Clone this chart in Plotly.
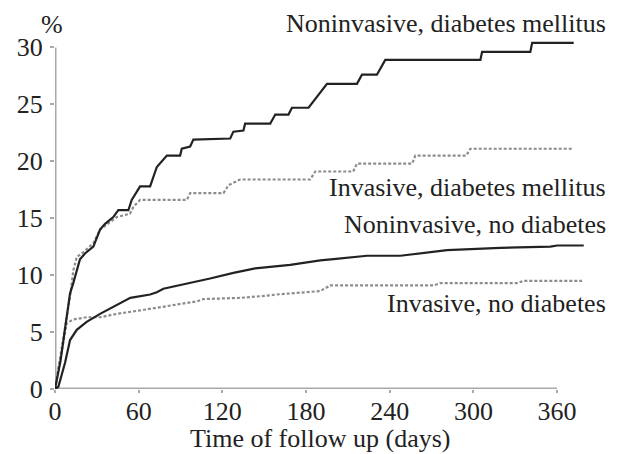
import plotly.graph_objects as go

# Cumulative event curves (% of patients) against days of follow-up
days_noninv_dm = [0, 4, 8, 10.8, 13.1, 15.6, 17.9, 21.5, 27.5, 32.3, 35.9, 41.8, 45.4, 52.6, 55.0,
                  61.0, 68.2, 73.0, 77.7, 80.2, 89.7, 90.9, 96.9, 99.2, 125.6, 127.9, 135.1, 136.3,
                  154.3, 157.9, 167.4, 169.9, 181.8, 195.0, 216.5, 220.1, 230.8, 236.8, 305.0,
                  306.2, 340.8, 342.1, 371.9]
pct_noninv_dm = [0, 2.5, 6.0, 8.4, 9.3, 10.5, 11.4, 11.9, 12.5, 14.0, 14.5, 15.1, 15.7, 15.7, 16.6,
                 17.8, 17.8, 19.5, 20.1, 20.5, 20.5, 21.1, 21.3, 21.9, 22.0, 22.6, 22.7, 23.3,
                 23.3, 24.1, 24.1, 24.7, 24.7, 26.8, 26.8, 27.6, 27.6, 28.9, 28.9,
                 29.6, 29.6, 30.4, 30.4]

days_inv_dm = [0, 7.2, 10.8, 13.1, 15.6, 19.2, 27.5, 32.3, 44.3, 53.8, 56.2, 61.0, 94.5, 96.9,
               120.8, 124.4, 132.7, 183.0, 186.6, 213.8, 216.5, 256.2, 258.3, 294.9, 297.8, 370.8]
pct_inv_dm = [0, 5.2, 8.1, 10.4, 11.6, 11.9, 12.8, 14.0, 15.1, 15.4, 16.0, 16.6, 16.6, 17.2,
              17.2, 17.9, 18.4, 18.4, 19.1, 19.1, 19.8, 19.8, 20.5, 20.5, 21.1, 21.1]

days_noninv_nodm = [0, 2.4, 7.2, 10.8, 15.6, 22.7, 32.3, 44.3, 54, 68.2, 73, 77.7, 93.3, 111.2,
                    127.9, 143.5, 168.6, 190.2, 199.7, 223.7, 247.6, 266.7, 281.1, 319.3, 355.2,
                    360.0, 379.1]
pct_noninv_nodm = [0, 0.2, 2.3, 4.3, 5.2, 5.9, 6.6, 7.4, 8.0, 8.3, 8.5, 8.8, 9.2, 9.7,
                   10.2, 10.6, 10.9, 11.3, 11.4, 11.7, 11.7, 12.0, 12.2, 12.4, 12.5,
                   12.6, 12.6]

days_inv_nodm = [0, 8.4, 13.1, 22.7, 32.3, 44.3, 61.0, 75.3, 89.7, 101.7, 106.4, 132.7, 151.9,
                 159.1, 190.2, 197.3, 271.5, 276.3, 331.3, 336.0, 377.9]
pct_inv_nodm = [0, 5.8, 6.1, 6.3, 6.3, 6.6, 6.9, 7.2, 7.5, 7.7, 7.9, 8.0, 8.2,
                8.3, 8.6, 9.1, 9.1, 9.3, 9.3, 9.5, 9.5]

x_ticks = [0, 60, 120, 180, 240, 300, 360]
y_ticks = [0, 5, 10, 15, 20, 25, 30]

FONT = '"Liberation Serif", "DejaVu Serif", serif'
AXIS_GREY = "#a9a9a9"
DOT_GREY = "#8c8c8c"
INK = "#222222"

fig = go.Figure()

dotted = dict(color=DOT_GREY, width=2.2, dash="3px,2px")
solid = dict(color=INK, width=2.2)

fig.add_trace(go.Scatter(x=days_inv_nodm, y=pct_inv_nodm, mode="lines", line=dotted,
                         name="Invasive, no diabetes"))
fig.add_trace(go.Scatter(x=days_inv_dm, y=pct_inv_dm, mode="lines", line=dotted,
                         name="Invasive, diabetes mellitus"))
fig.add_trace(go.Scatter(x=days_noninv_nodm, y=pct_noninv_nodm, mode="lines", line=solid,
                         name="Noninvasive, no diabetes"))
fig.add_trace(go.Scatter(x=days_noninv_dm, y=pct_noninv_dm, mode="lines", line=solid,
                         name="Noninvasive, diabetes mellitus"))

# axis lines end at the last tick
fig.add_shape(type="line", x0=0, x1=x_ticks[-1], y0=0, y1=0, xref="x", yref="y",
              line=dict(color=AXIS_GREY, width=3), layer="below")
fig.add_shape(type="line", x0=0, x1=0, y0=0, y1=y_ticks[-1], xref="x", yref="y",
              line=dict(color=AXIS_GREY, width=3), layer="below")

label_font = dict(family=FONT, size=26, color=INK)
right_x = 1.0434
for text, yp in [("Noninvasive, diabetes mellitus", 1.0349),
                 ("Invasive, diabetes mellitus", 0.5722),
                 ("Noninvasive, no diabetes", 0.4646),
                 ("Invasive, no diabetes", 0.2416)]:
    fig.add_annotation(text=text, x=right_x, y=yp, xref="paper", yref="paper",
                       xanchor="right", yanchor="middle", showarrow=False, font=label_font)

fig.add_annotation(text="%", x=-0.0057, y=1.0312, xref="paper", yref="paper",
                   xanchor="center", yanchor="middle", showarrow=False, font=label_font)
fig.add_annotation(text="Time of follow up (days)", x=0.5, y=-0.1402, xref="paper", yref="paper",
                   xanchor="center", yanchor="middle", showarrow=False, font=label_font)

fig.update_layout(
    width=619, height=454,
    margin=dict(l=55, r=34, t=36, b=65),
    paper_bgcolor="white", plot_bgcolor="white",
    showlegend=False,
    font=dict(family=FONT, size=26, color=INK),
    xaxis=dict(range=[0, 380], tickvals=x_ticks, ticktext=[str(v) for v in x_ticks],
               showgrid=False, zeroline=False, showline=False,
               ticks="outside", ticklen=3, tickwidth=2, tickcolor=AXIS_GREY,
               ticklabelstandoff=-4, tickfont=label_font),
    yaxis=dict(range=[0, 31], tickvals=y_ticks, ticktext=[str(v) for v in y_ticks],
               showgrid=False, zeroline=False, showline=False,
               ticks="outside", ticklen=4, tickwidth=2, tickcolor=AXIS_GREY,
               ticklabelstandoff=2, tickfont=label_font),
)

fig.write_html("out.html")
